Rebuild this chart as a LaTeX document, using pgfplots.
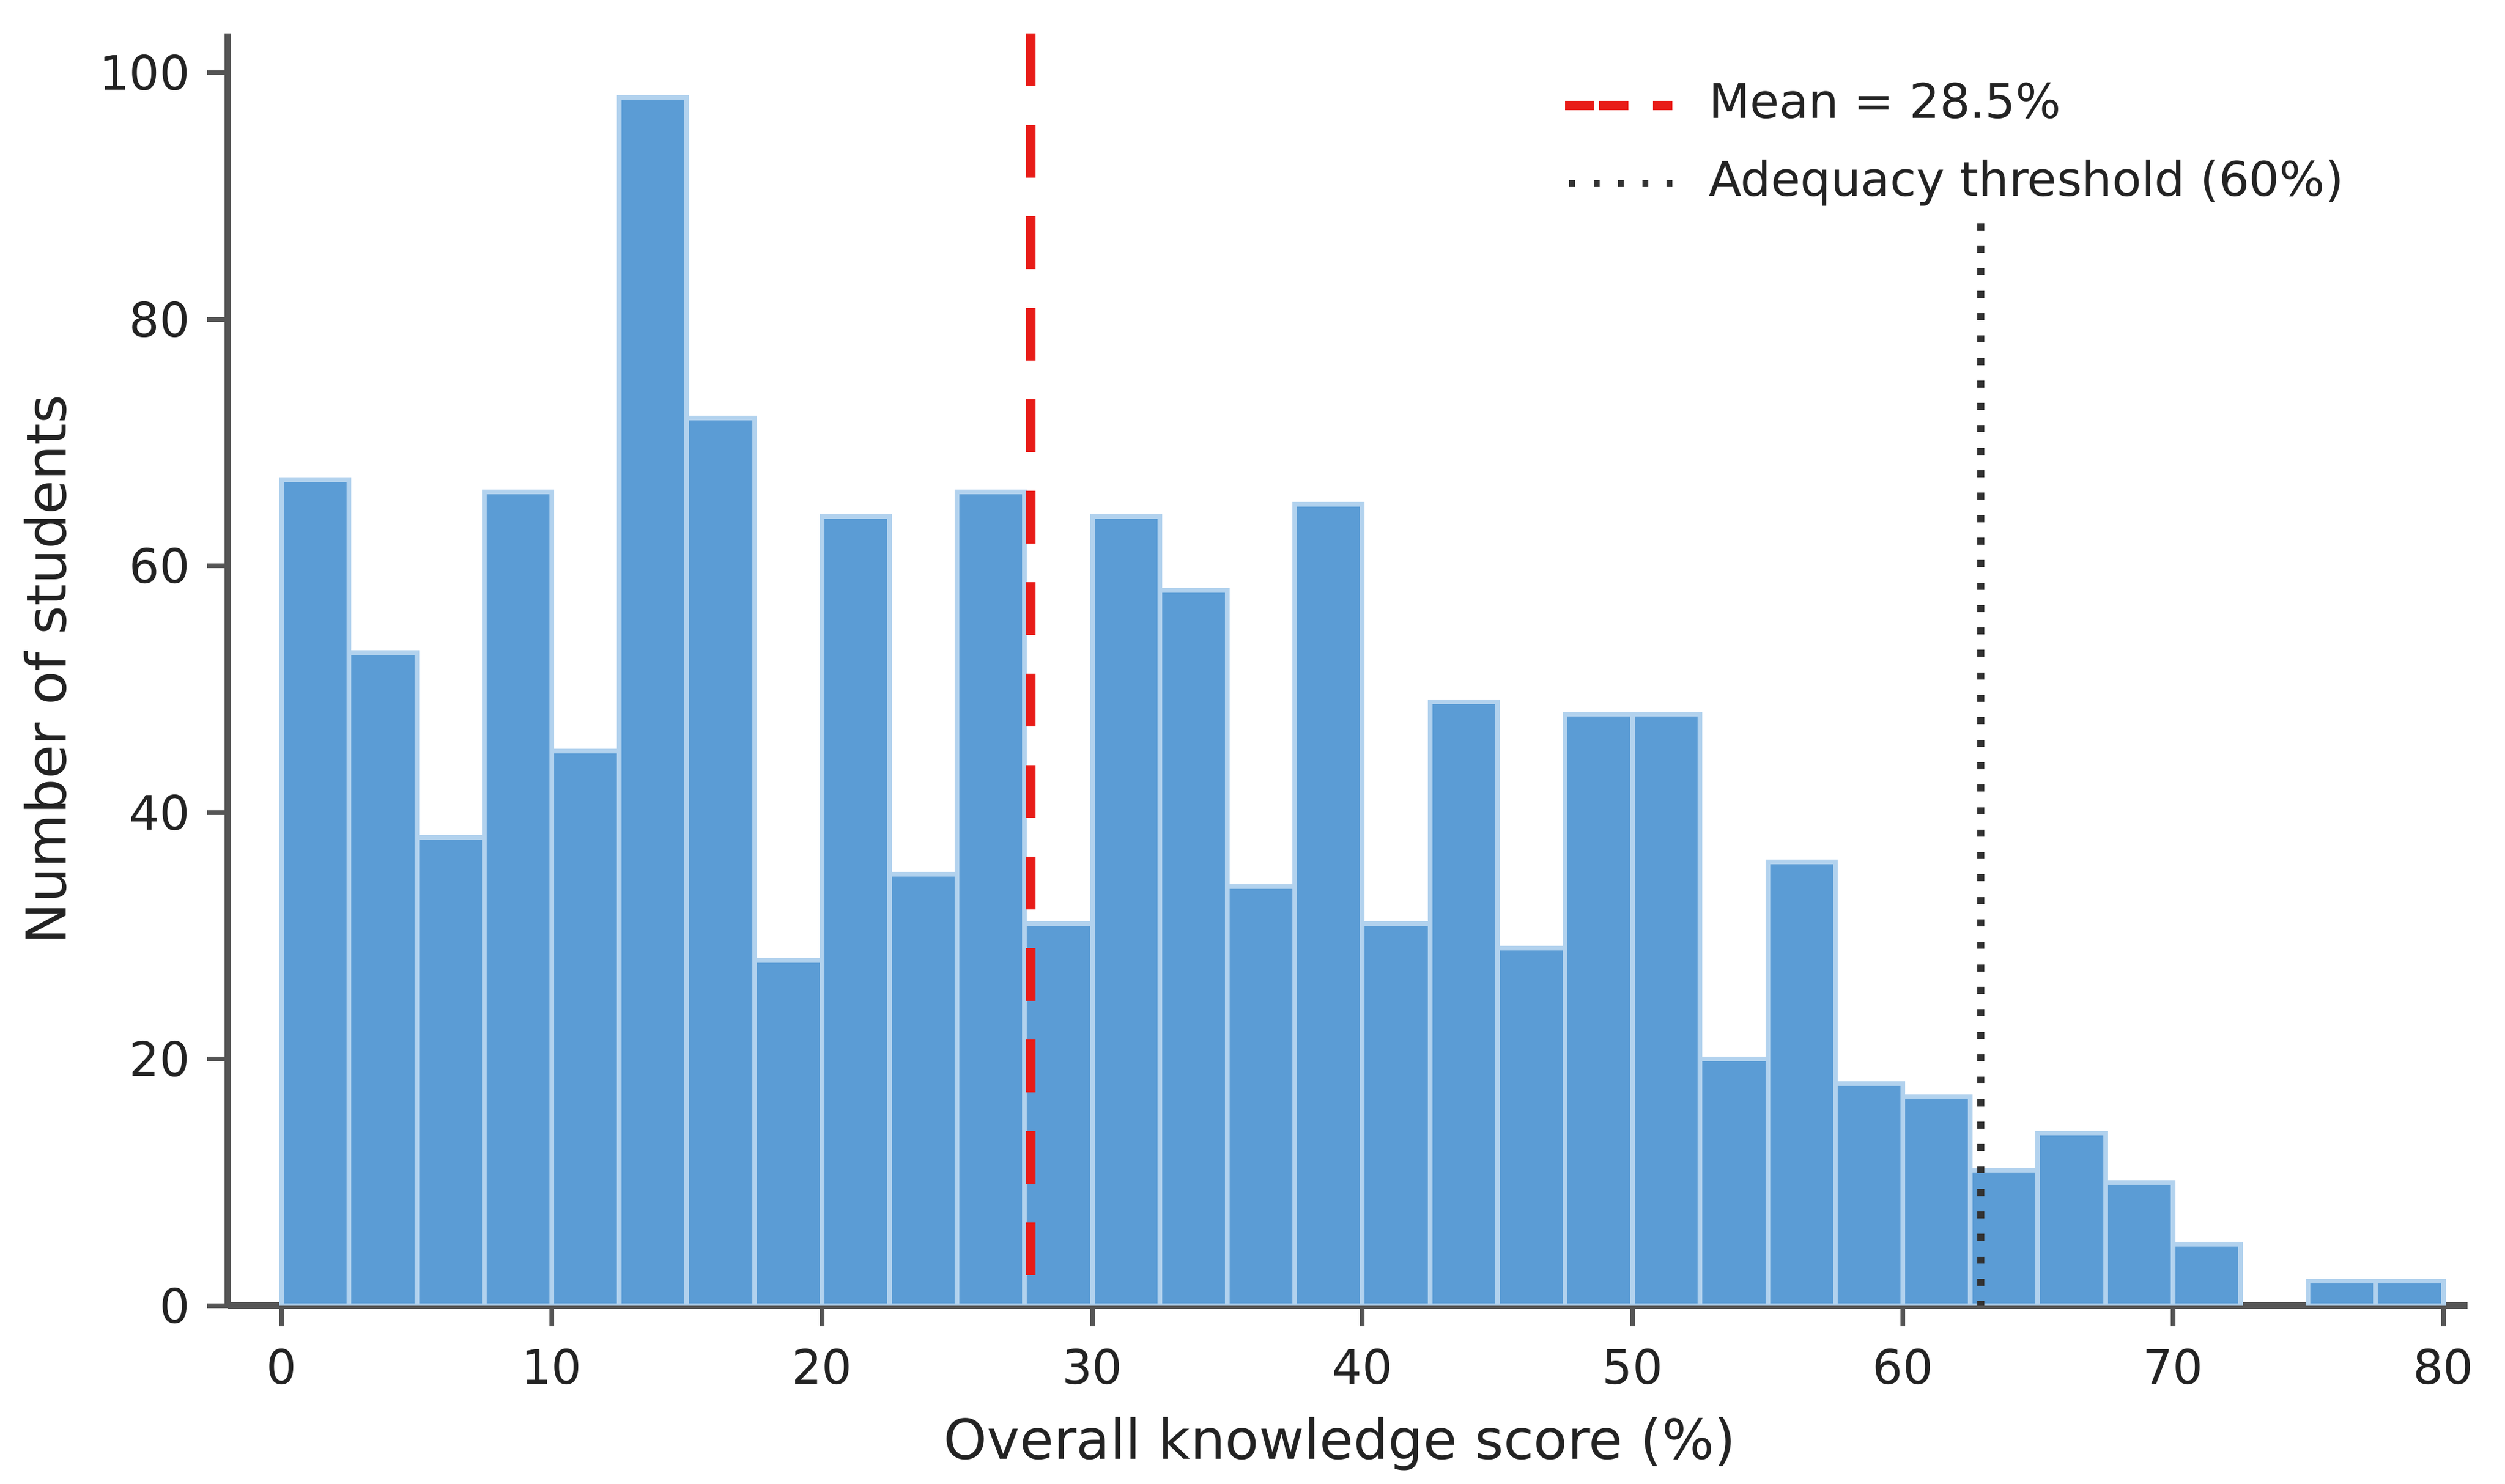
\documentclass[border=0pt]{standalone}
\usepackage{fontspec}
\setmainfont{DejaVu Sans}
\usepackage{pgfplots}
\pgfplotsset{compat=1.18}
\usepackage{pgfplotstable}
\definecolor{barblue}{RGB}{91,156,213}
\definecolor{baredge}{RGB}{178,210,238}
\definecolor{spine}{RGB}{85,85,85}
\definecolor{txt}{RGB}{35,35,35}
\definecolor{meanred}{RGB}{232,28,24}

\pgfplotstableread{
left count
0 67
2.5 53
5 38
7.5 66
10 45
12.5 98
15 72
17.5 28
20 64
22.5 35
25 66
27.5 31
30 64
32.5 58
35 34
37.5 65
40 31
42.5 49
45 29
47.5 48
50 48
52.5 20
55 36
57.5 18
60 17
62.5 11
65 14
67.5 10
70 5
72.5 5
}\histA

\pgfplotstableread{
left count
75 2
77.5 2
80 2
}\histB

\begin{document}
\begin{tikzpicture}
\begin{axis}[
  scale only axis,
  width=382pt, height=217pt,
  xmin=-2, xmax=80.9, ymin=0, ymax=103.2,
  axis lines*=left,
  axis line style={spine, line width=1.1pt},
  tick align=outside,
  major tick length=3.5pt,
  tick style={spine, line width=0.8pt},
  xtick={0,10,...,80}, ytick={0,20,...,100},
  /pgf/number format/assume math mode=true,
  ticklabel style={font=\fontsize{8.1}{9.7}\selectfont, text=txt, inner sep=0pt},
  xticklabel shift=3.6pt, yticklabel shift=2.7pt,
  xlabel={Overall knowledge score (\%)},
  ylabel={Number of students},
  label style={font=\fontsize{9.4}{11}\selectfont, text=txt, inner sep=0pt},
  xlabel style={at={(axis description cs:0.4966,-0.1207)}, anchor=base},
  ylabel style={at={(axis description cs:-0.072,0.5)}, anchor=base},
  legend image code/.code={\draw[#1] (0pt,0pt) -- (18.3pt,0pt);},
  legend cell align=left,
  legend style={draw=none, fill=none, at={(axis description cs:0.5945,0.9627)}, anchor=north west,
    inner sep=0pt, column sep=5.4pt, row sep=5.3pt,
    font=\fontsize{8.15}{9.8}\selectfont, text=txt,
    nodes={inner sep=0pt, text height=6.2pt, text depth=1.8pt}},
]
\addplot[ybar interval, fill=barblue, draw=baredge, line width=0.8pt, forget plot] table[x=left,y=count]{\histA};
\addplot[ybar interval, fill=barblue, draw=baredge, line width=0.8pt, forget plot] table[x=left,y=count]{\histB};
\addplot[meanred, line width=1.6pt, dash pattern=on 9pt off 6.6pt, forget plot] coordinates {(27.74,103.2) (27.74,0)};
\addplot[black!80, line width=1.2pt, dash pattern=on 1.2pt off 2.63pt, forget plot] coordinates {(62.88,87.8) (62.88,0)};
\addlegendimage{meanred, line width=1.6pt, dash pattern=on 5pt off 0.8pt on 5pt off 4.2pt on 3.3pt off 2pt}
\addlegendentry{Mean = 28.5\%}
\addlegendimage{black!80, line width=1.2pt, dash pattern=on 1pt off 3.15pt, dash phase=3.45pt}
\addlegendentry{Adequacy threshold (60\%)}
\end{axis}
\pgfresetboundingbox
\path[use as bounding box] (-38.8pt,-30.4pt) rectangle (388.4pt,222.7pt);
\end{tikzpicture}
\end{document}
